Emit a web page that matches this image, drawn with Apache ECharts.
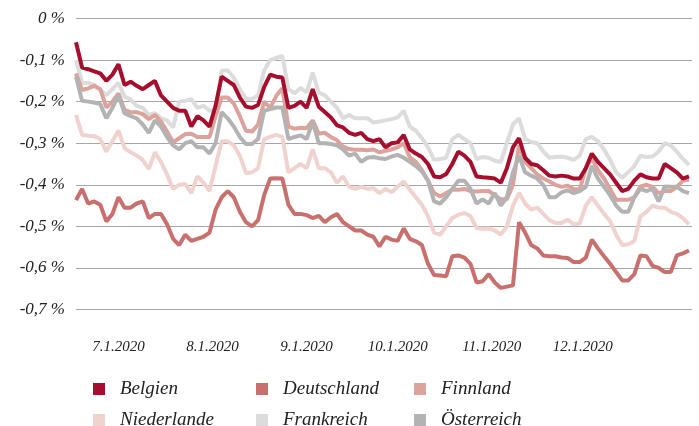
<!DOCTYPE html>
<html>
<head>
<meta charset="utf-8">
<script src="https://cdn.jsdelivr.net/npm/echarts@6.0.0/dist/echarts.min.js"></script>
<style>
  html, body { margin: 0; padding: 0; background: #fff; }
  #chart { width: 699px; height: 426px; }
</style>
</head>
<body>
<div id="chart"></div>
<script>
// Tage seit 17.06.2020, ein Punkt alle 2 Tage
const stepDays = 2;
const tickDays = [14, 45, 76, 106, 137, 167];
const tickLabels = ['7.1.2020', '8.1.2020', '9.1.2020', '10.1.2020', '11.1.2020', '12.1.2020'];

const belgien = [-0.057,-0.118,-0.122,-0.127,-0.132,-0.15,-0.135,-0.11,-0.16,-0.152,
  -0.162,-0.17,-0.16,-0.15,-0.185,-0.2,-0.215,-0.222,-0.222,-0.26,
  -0.235,-0.245,-0.26,-0.21,-0.14,-0.15,-0.16,-0.19,-0.212,-0.215,
  -0.208,-0.165,-0.135,-0.14,-0.142,-0.215,-0.21,-0.2,-0.215,-0.17,
  -0.212,-0.225,-0.238,-0.257,-0.262,-0.275,-0.28,-0.275,-0.29,-0.295,
  -0.29,-0.31,-0.3,-0.298,-0.28,-0.315,-0.325,-0.333,-0.35,-0.38,
  -0.382,-0.374,-0.35,-0.32,-0.33,-0.345,-0.38,-0.382,-0.383,-0.385,
  -0.395,-0.36,-0.31,-0.288,-0.335,-0.35,-0.353,-0.365,-0.378,-0.38,
  -0.378,-0.38,-0.385,-0.385,-0.36,-0.325,-0.345,-0.36,-0.375,-0.395,
  -0.415,-0.41,-0.39,-0.375,-0.382,-0.385,-0.385,-0.35,-0.36,-0.37,
  -0.385,-0.38];
const deutschland = [-0.437,-0.41,-0.445,-0.44,-0.448,-0.488,-0.47,-0.43,-0.455,-0.455,
  -0.445,-0.44,-0.48,-0.47,-0.47,-0.495,-0.53,-0.545,-0.52,-0.535,
  -0.53,-0.525,-0.515,-0.46,-0.43,-0.415,-0.43,-0.465,-0.49,-0.5,
  -0.485,-0.425,-0.385,-0.384,-0.385,-0.448,-0.47,-0.47,-0.473,-0.48,
  -0.475,-0.49,-0.478,-0.47,-0.49,-0.5,-0.51,-0.51,-0.52,-0.525,
  -0.548,-0.525,-0.532,-0.535,-0.505,-0.53,-0.536,-0.545,-0.59,-0.617,
  -0.618,-0.62,-0.572,-0.57,-0.575,-0.59,-0.635,-0.632,-0.615,-0.635,
  -0.648,-0.645,-0.642,-0.49,-0.515,-0.545,-0.553,-0.57,-0.572,-0.572,
  -0.575,-0.576,-0.586,-0.586,-0.575,-0.532,-0.553,-0.572,-0.59,-0.61,
  -0.63,-0.63,-0.615,-0.57,-0.572,-0.595,-0.6,-0.61,-0.61,-0.57,
  -0.565,-0.558];
const finnland = [-0.132,-0.172,-0.168,-0.162,-0.17,-0.214,-0.2,-0.18,-0.22,-0.226,
  -0.225,-0.23,-0.242,-0.232,-0.248,-0.272,-0.298,-0.288,-0.278,-0.277,
  -0.285,-0.285,-0.285,-0.235,-0.19,-0.19,-0.205,-0.235,-0.27,-0.272,
  -0.255,-0.2,-0.215,-0.186,-0.168,-0.26,-0.265,-0.263,-0.264,-0.245,
  -0.277,-0.275,-0.285,-0.293,-0.308,-0.314,-0.316,-0.316,-0.317,-0.315,
  -0.322,-0.318,-0.315,-0.31,-0.3,-0.334,-0.345,-0.365,-0.39,-0.42,
  -0.428,-0.42,-0.412,-0.412,-0.41,-0.415,-0.416,-0.415,-0.415,-0.425,
  -0.435,-0.435,-0.4,-0.305,-0.345,-0.36,-0.375,-0.385,-0.392,-0.4,
  -0.405,-0.402,-0.41,-0.412,-0.36,-0.336,-0.365,-0.385,-0.41,-0.436,
  -0.436,-0.436,-0.43,-0.404,-0.4,-0.405,-0.42,-0.415,-0.415,-0.405,
  -0.39,-0.388];
const niederlande = [-0.232,-0.28,-0.282,-0.283,-0.29,-0.32,-0.295,-0.27,-0.312,-0.322,
  -0.33,-0.34,-0.362,-0.322,-0.345,-0.375,-0.41,-0.4,-0.398,-0.42,
  -0.38,-0.395,-0.415,-0.355,-0.295,-0.295,-0.305,-0.33,-0.372,-0.37,
  -0.36,-0.29,-0.285,-0.28,-0.285,-0.37,-0.36,-0.35,-0.36,-0.315,
  -0.36,-0.36,-0.37,-0.395,-0.38,-0.405,-0.41,-0.405,-0.41,-0.408,
  -0.42,-0.41,-0.418,-0.405,-0.392,-0.412,-0.43,-0.448,-0.476,-0.515,
  -0.52,-0.5,-0.48,-0.472,-0.468,-0.475,-0.504,-0.506,-0.505,-0.51,
  -0.52,-0.5,-0.45,-0.42,-0.445,-0.46,-0.455,-0.47,-0.485,-0.492,
  -0.492,-0.484,-0.495,-0.493,-0.45,-0.43,-0.45,-0.47,-0.487,-0.52,
  -0.545,-0.543,-0.535,-0.476,-0.465,-0.45,-0.455,-0.455,-0.465,-0.47,
  -0.48,-0.495];
const frankreich = [-0.1,-0.155,-0.155,-0.16,-0.172,-0.184,-0.17,-0.155,-0.188,-0.195,
  -0.21,-0.215,-0.232,-0.228,-0.24,-0.245,-0.262,-0.2,-0.198,-0.194,
  -0.215,-0.21,-0.222,-0.22,-0.125,-0.125,-0.142,-0.17,-0.193,-0.193,
  -0.185,-0.125,-0.1,-0.095,-0.09,-0.17,-0.18,-0.167,-0.178,-0.13,
  -0.178,-0.185,-0.2,-0.215,-0.24,-0.232,-0.24,-0.24,-0.24,-0.25,
  -0.248,-0.245,-0.242,-0.238,-0.222,-0.26,-0.27,-0.288,-0.31,-0.34,
  -0.338,-0.335,-0.29,-0.28,-0.29,-0.3,-0.338,-0.333,-0.335,-0.342,
  -0.345,-0.3,-0.255,-0.24,-0.29,-0.297,-0.3,-0.32,-0.335,-0.333,
  -0.332,-0.335,-0.34,-0.33,-0.29,-0.285,-0.295,-0.315,-0.34,-0.37,
  -0.383,-0.37,-0.355,-0.33,-0.333,-0.332,-0.32,-0.3,-0.305,-0.32,
  -0.338,-0.352];
const oesterreich = [-0.14,-0.198,-0.2,-0.202,-0.206,-0.24,-0.215,-0.185,-0.228,-0.235,
  -0.24,-0.255,-0.275,-0.245,-0.26,-0.285,-0.305,-0.315,-0.3,-0.295,
  -0.31,-0.31,-0.325,-0.3,-0.225,-0.24,-0.26,-0.285,-0.302,-0.302,
  -0.29,-0.222,-0.218,-0.214,-0.214,-0.29,-0.285,-0.281,-0.29,-0.248,
  -0.3,-0.3,-0.302,-0.305,-0.315,-0.33,-0.325,-0.345,-0.335,-0.333,
  -0.336,-0.338,-0.332,-0.328,-0.335,-0.345,-0.355,-0.368,-0.39,-0.44,
  -0.445,-0.43,-0.41,-0.39,-0.39,-0.41,-0.445,-0.435,-0.445,-0.42,
  -0.45,-0.43,-0.37,-0.33,-0.37,-0.378,-0.385,-0.4,-0.43,-0.43,
  -0.418,-0.413,-0.42,-0.415,-0.405,-0.355,-0.385,-0.405,-0.425,-0.45,
  -0.465,-0.465,-0.43,-0.41,-0.415,-0.41,-0.44,-0.404,-0.405,-0.405,
  -0.415,-0.42];

const font = 'Liberation Serif';

function pairs(values) {
  return values.map((v, i) => [i * stepDays, v]);
}

function line(name, values, color) {
  return {
    name: name,
    type: 'line',
    data: pairs(values),
    showSymbol: false,
    color: color,
    lineStyle: { width: 4, color: color },
  };
}

// Legende: 3 Spalten x 2 Zeilen, ein Eintrag pro Komponente
const legendNames = [['Belgien', 'Deutschland', 'Finnland'], ['Niederlande', 'Frankreich', 'Österreich']];
const legendCols = [88, 251, 409];
const legendRows = [374, 405];
let legends = [];
legendNames.forEach(function (row, r) {
  row.forEach(function (name, c) {
    legends.push({
      data: [name],
      left: legendCols[c],
      top: legendRows[r],
      icon: 'rect',
      itemWidth: 12,
      itemHeight: 12,
      selectedMode: false,
      textStyle: {
        fontFamily: font,
        fontStyle: 'italic',
        fontSize: 19,
        lineHeight: 20,
        color: '#222',
        padding: [0, 0, 0, 10],
      },
    });
  });
});

let myChart = echarts.init(document.getElementById('chart'), null, { renderer: 'canvas' });
let option = {
  animation: false,
  grid: { left: 76, right: 7, top: 18.5, bottom: 116.5 },
  legend: legends,
  xAxis: {
    type: 'value',
    min: 0,
    max: 203,
    axisLine: { show: false },
    axisTick: { show: false },
    splitLine: { show: false },
    axisLabel: {
      customValues: tickDays,
      formatter: function (v) {
        return tickLabels[tickDays.indexOf(v)];
      },
      margin: 30,
      fontFamily: font,
      fontStyle: 'italic',
      fontSize: 15,
      color: '#222',
    },
  },
  yAxis: {
    type: 'value',
    min: -0.7,
    max: 0,
    interval: 0.1,
    axisLine: { show: false },
    axisTick: { show: false },
    splitLine: { lineStyle: { color: '#a6a6a6', width: 1 } },
    axisLabel: {
      formatter: function (v) {
        if (Math.abs(v) < 1e-9) return '0 %';
        return v.toFixed(1).replace('.', ',') + ' %';
      },
      margin: 11,
      fontFamily: font,
      fontStyle: 'italic',
      fontSize: 17,
      color: '#222',
    },
  },
  series: [
    line('Deutschland', deutschland, '#c7706e'),
    line('Niederlande', niederlande, '#f0d2cf'),
    line('Frankreich', frankreich, '#dcdcdc'),
    line('Finnland', finnland, '#dba39b'),
    line('Österreich', oesterreich, '#b3b3b3'),
    line('Belgien', belgien, '#a50e2d'),
  ],
};
myChart.setOption(option, true);
</script>
</body>
</html>
